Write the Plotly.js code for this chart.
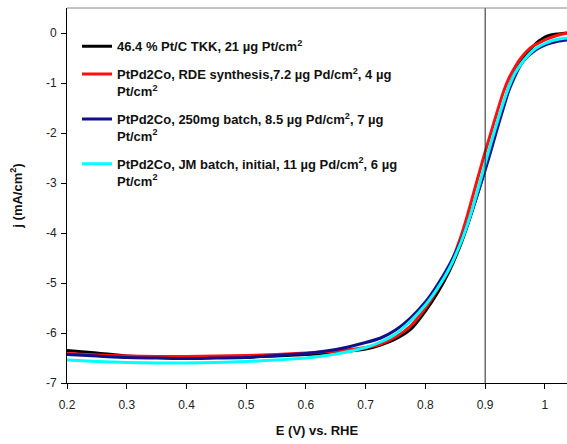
<!DOCTYPE html>
<html>
<head>
<meta charset="utf-8">
<script src="https://cdn.plot.ly/plotly-3.0.1.min.js"></script>
<style>html,body{margin:0;padding:0;background:#fff;}#chart{width:567px;height:444px;}</style>
</head>
<body>
<div id="chart"></div>
<script>
// Potential grid (V vs. RHE)
const potential = [0.2,0.25,0.3,0.35,0.4,0.45,0.5,0.55,0.6,0.65,0.7,0.725,0.75,0.775,0.8,0.82,0.84,0.86,0.87,0.88,0.89,0.9,0.91,0.92,0.93,0.94,0.95,0.96,0.97,0.98,0.99,1.0,1.01,1.02,1.03,1.037];

// Current density j (mA/cm^2)
const jPtC_TKK = [-6.35,-6.40,-6.46,-6.48,-6.49,-6.49,-6.48,-6.46,-6.43,-6.39,-6.32,-6.24,-6.12,-5.93,-5.56,-5.20,-4.76,-4.20,-3.86,-3.49,-3.10,-2.70,-2.28,-1.86,-1.46,-1.08,-0.78,-0.55,-0.40,-0.27,-0.16,-0.08,-0.04,-0.02,-0.01,0.0];
const jRDE = [-6.41,-6.44,-6.46,-6.47,-6.47,-6.46,-6.45,-6.43,-6.40,-6.36,-6.29,-6.22,-6.08,-5.86,-5.50,-5.13,-4.68,-4.05,-3.66,-3.23,-2.80,-2.38,-1.98,-1.58,-1.20,-0.90,-0.68,-0.50,-0.36,-0.26,-0.20,-0.14,-0.09,-0.05,-0.02,0.0];
const j250mg = [-6.43,-6.46,-6.49,-6.50,-6.51,-6.50,-6.49,-6.45,-6.41,-6.33,-6.19,-6.10,-5.94,-5.70,-5.38,-5.04,-4.64,-4.14,-3.84,-3.49,-3.12,-2.74,-2.34,-1.92,-1.52,-1.14,-0.86,-0.63,-0.48,-0.38,-0.30,-0.24,-0.20,-0.17,-0.15,-0.14];
const jJM = [-6.54,-6.57,-6.59,-6.60,-6.60,-6.59,-6.57,-6.54,-6.50,-6.42,-6.29,-6.18,-6.02,-5.76,-5.44,-5.11,-4.71,-4.17,-3.84,-3.46,-3.04,-2.61,-2.19,-1.79,-1.41,-1.07,-0.80,-0.62,-0.47,-0.35,-0.27,-0.21,-0.16,-0.13,-0.11,-0.10];

const seriesNames = [
  "46.4 % Pt/C TKK, 21 µg Pt/cm<sup>2</sup>",
  "PtPd2Co, RDE synthesis,7.2 µg Pd/cm<sup>2</sup>, 4 µg<br>Pt/cm<sup>2</sup>",
  "PtPd2Co, 250mg batch, 8.5 µg Pd/cm<sup>2</sup>, 7 µg<br>Pt/cm<sup>2</sup>",
  "PtPd2Co, JM batch, initial, 11 µg Pd/cm<sup>2</sup>, 6 µg<br>Pt/cm<sup>2</sup>"
];
const seriesColors = ["#000000", "#ff1010", "#10108c", "#00ffff"];
const seriesValues = [jPtC_TKK, jRDE, j250mg, jJM];

const xTicks = [0.2,0.3,0.4,0.5,0.6,0.7,0.8,0.9,1];
const yTicks = [0,-1,-2,-3,-4,-5,-6,-7];
const refPotential = 0.9;

const traces = seriesValues.map((vals, i) => ({
  x: potential,
  y: vals,
  type: "scatter",
  mode: "lines",
  name: seriesNames[i],
  legendgroup: "g" + i,
  line: {color: seriesColors[i], width: 3, shape: "spline", smoothing: 0.6}
}));

const FONT = "Liberation Sans, Arial, Helvetica, sans-serif";

const layout = {
  width: 567,
  height: 444,
  margin: {l: 67, r: 0, t: 8, b: 61},
  paper_bgcolor: "#ffffff",
  plot_bgcolor: "#ffffff",
  showlegend: true,
  legend: {
    x: 0.02, y: 0.938, xanchor: "left", yanchor: "top",
    bgcolor: "rgba(0,0,0,0)",
    font: {family: FONT, size: 13, color: "#111", weight: "bold"},
    traceorder: "grouped",
    tracegroupgap: 8,
    valign: "top"
  },
  xaxis: {
    range: [0.2, 1.037],
    tickvals: xTicks,
    ticktext: xTicks.map(String),
    ticks: "outside", ticklen: 5, tickcolor: "#000",
    ticklabelstandoff: 6,
    showline: true, linecolor: "#000", linewidth: 1,
    showgrid: false, zeroline: false,
    tickfont: {family: FONT, size: 12, color: "#222"},
    title: {text: "E (V) vs. RHE", font: {family: FONT, size: 13, color: "#111", weight: "bold"}, standoff: 14}
  },
  yaxis: {
    range: [-7, 0.5],
    tickvals: yTicks,
    ticktext: yTicks.map(String),
    ticks: "outside", ticklen: 5, tickcolor: "#000",
    ticklabelstandoff: 2,
    showline: true, linecolor: "#000", linewidth: 1,
    showgrid: false, zeroline: false,
    tickfont: {family: FONT, size: 12, color: "#222"},
    title: {text: "j (mA/cm<sup>2</sup>)", font: {family: FONT, size: 13, color: "#111", weight: "bold"}, standoff: 20}
  },
  shapes: [
    {type: "line", xref: "x", yref: "paper", x0: refPotential, x1: refPotential, y0: 0, y1: 1, line: {color: "#222", width: 1}},
    {type: "line", xref: "paper", yref: "paper", x0: 0, x1: 1, y0: 1, y1: 1, line: {color: "#888", width: 1}}
  ]
};

Plotly.newPlot("chart", traces, layout, {staticPlot: true, displayModeBar: false});
</script>
</body>
</html>
